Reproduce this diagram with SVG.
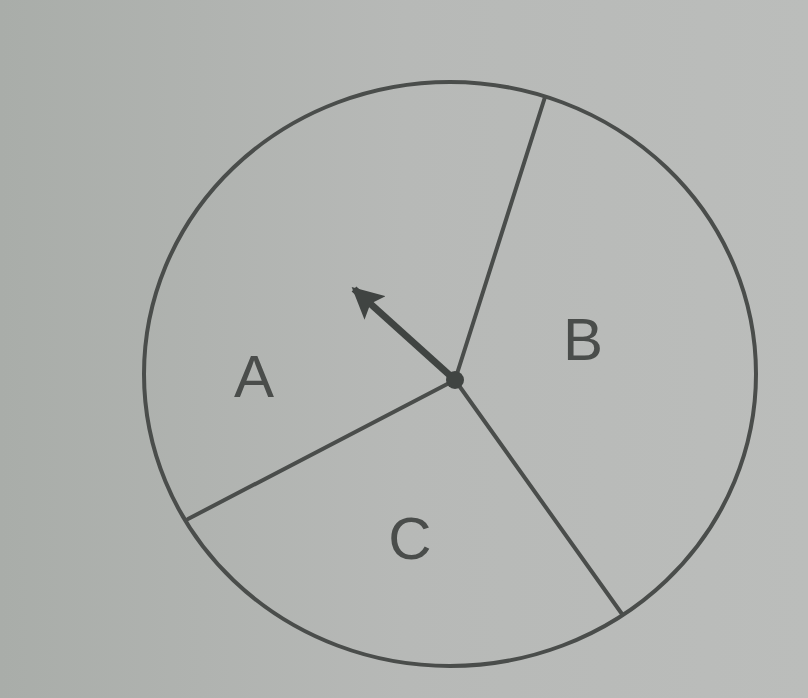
<svg xmlns="http://www.w3.org/2000/svg" width="808" height="698" viewBox="0 0 808 698">
<defs>
<linearGradient id="bg" x1="0" y1="0" x2="1" y2="0">
<stop offset="0" stop-color="#a9ada9"/>
<stop offset="0.5" stop-color="#b7b9b7"/>
<stop offset="1" stop-color="#bbbdbb"/>
</linearGradient>
<marker id="ah" viewBox="0 0 10 10" refX="9" refY="5" markerWidth="4.5" markerHeight="4.5" orient="auto" markerUnits="strokeWidth">
<path d="M0,0 L10,5 L0,10 L2,5 Z" fill="#404442"/>
</marker>
</defs>
<style>
.ln{stroke:#4a4d4b;stroke-width:4;fill:none;stroke-linecap:round}
.lbl{font-family:"Liberation Sans",Arial,sans-serif;font-size:60px;fill:#4a4d4b;text-anchor:middle}
</style>
<rect width="808" height="698" fill="url(#bg)"/>
<g id="spinner">
<ellipse cx="450" cy="374" rx="306" ry="292" class="ln"/>
</g>
<g id="connectors">
<line x1="455" y1="380" x2="545" y2="97" class="ln"/>
<line x1="455" y1="380" x2="188" y2="519" class="ln"/>
<line x1="455" y1="380" x2="622" y2="614" class="ln"/>
<line x1="455" y1="380" x2="354" y2="289" stroke="#404442" stroke-width="7" marker-end="url(#ah)"/>
<circle cx="455" cy="380" r="9" fill="#404442"/>
</g>
<g id="labels">
<text class="lbl" x="254" y="397">A</text>
<text class="lbl" x="583" y="360">B</text>
<text class="lbl" x="410" y="559">C</text>
</g>
</svg>
